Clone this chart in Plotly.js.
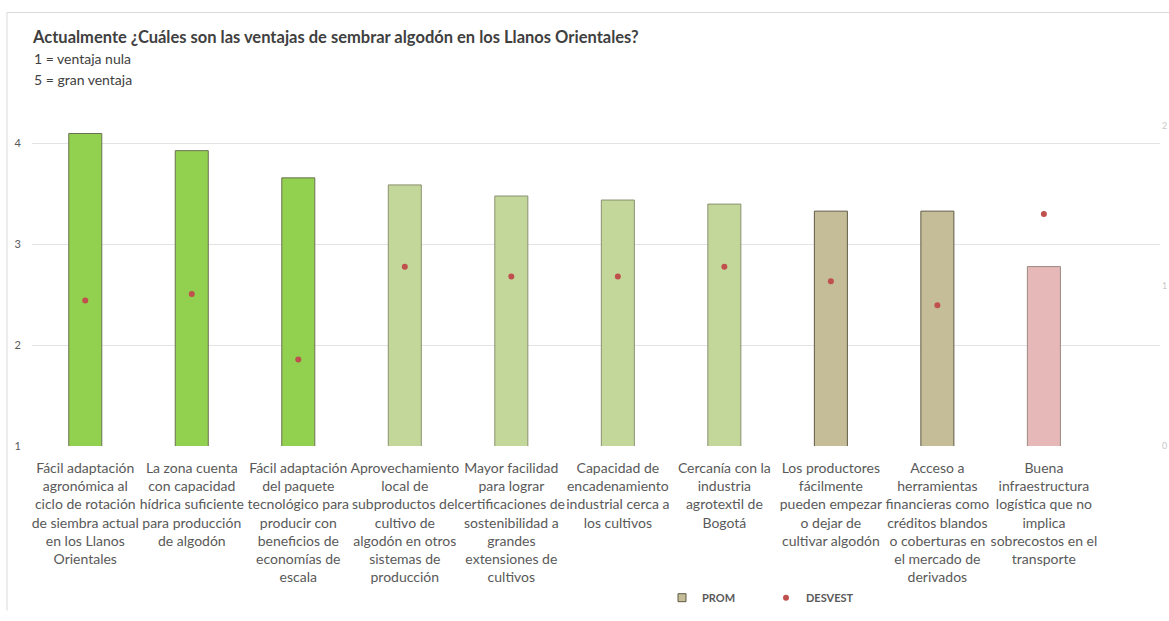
<!DOCTYPE html>
<html>
<head>
<meta charset="utf-8">
<script src="https://cdn.plot.ly/plotly-3.0.1.min.js"></script>
<style>html,body{margin:0;padding:0;background:#fff;}#chart{width:1169px;height:621px;}</style>
</head>
<body>
<div id="chart"></div>
<script>
const categories = [
  "Fácil adaptación<br>agronómica al<br>ciclo de rotación<br>de siembra actual<br>en los Llanos<br>Orientales",
  "La zona cuenta<br>con capacidad<br>hídrica suficiente<br>para producción<br>de algodón",
  "Fácil adaptación<br>del paquete<br>tecnológico para<br>producir con<br>beneficios de<br>economías de<br>escala",
  "Aprovechamiento<br>local de<br>subproductos del<br>cultivo de<br>algodón en otros<br>sistemas de<br>producción",
  "Mayor facilidad<br>para lograr<br>certificaciones de<br>sostenibilidad a<br>grandes<br>extensiones de<br>cultivos",
  "Capacidad de<br>encadenamiento<br>industrial cerca a<br>los cultivos",
  "Cercanía con la<br>industria<br>agrotextil de<br>Bogotá",
  "Los productores<br>fácilmente<br>pueden empezar<br>o dejar de<br>cultivar algodón",
  "Acceso a<br>herramientas<br>financieras como<br>créditos blandos<br>o coberturas en<br>el mercado de<br>derivados",
  "Buena<br>infraestructura<br>logística que no<br>implica<br>sobrecostos en el<br>transporte"
];
const prom = [4.10, 3.93, 3.66, 3.59, 3.48, 3.44, 3.40, 3.33, 3.33, 2.78];
const desvest = [0.91, 0.95, 0.54, 1.12, 1.06, 1.06, 1.12, 1.03, 0.88, 1.45];
const yTicks = [1, 2, 3, 4];
const y2Ticks = [0, 1, 2];
const titleText = "Actualmente ¿Cuáles son las ventajas de sembrar algodón en los Llanos Orientales?";
const subtitleLines = ["1 = ventaja nula", "5 = gran ventaja"];

const barColors = ["#92D050","#92D050","#92D050","#C4D79B","#C4D79B","#C4D79B","#C4D79B","#C4BD97","#C4BD97","#E6B8B7"];
const barLines = ["#6b7050","#6b7050","#6b7050","#8a9070","#8a9070","#8a9070","#8a9070","#5f5a45","#5f5a45","#9a8a85"];

const font = "Lato, 'Open Sans', sans-serif";
const py = p => (453 - p) / 328;   // pixel row -> paper y
const px = p => (p - 32) / 1128;   // pixel column -> paper x

const traces = [
  {
    type: "bar", x: categories, y: prom, name: "PROM", showlegend: false,
    width: 0.31,
    marker: {color: barColors, line: {color: barLines, width: 1}},
    xaxis: "x", yaxis: "y"
  },
  {
    type: "scatter", mode: "markers", x: [categories[0]], y: [null], name: "PROM",
    marker: {color: "#C4BD97", symbol: "square", size: 8, line: {color: "#5f5a45", width: 1}},
    xaxis: "x", yaxis: "y"
  },
  {
    type: "scatter", mode: "markers", x: categories, y: desvest, name: "DESVEST",
    marker: {color: "#C0504D", size: 6},
    xaxis: "x", yaxis: "y2"
  }
];

const layout = {
  width: 1169, height: 621,
  margin: {l: 32, r: 9, t: 125, b: 168},
  paper_bgcolor: "#ffffff", plot_bgcolor: "#ffffff",
  font: {family: font, color: "#595959", size: 13},
  barmode: "overlay",
  title: {
    text: "<b>" + titleText + "</b>",
    x: 33/1169, xanchor: "left", xref: "container",
    y: 1 - 37/621, yanchor: "middle", yref: "container",
    font: {family: font, size: 16.5, color: "#404040"}
  },
  annotations: subtitleLines.map((t, i) => ({
    text: t, xref: "paper", yref: "paper", x: px(32), y: py(57 + i * 21),
    xanchor: "left", yanchor: "middle", showarrow: false,
    font: {family: font, size: 14, color: "#404040"}
  })),
  xaxis: {
    type: "category", range: [-0.5, 10.09],
    showgrid: false, showline: false, zeroline: false, ticks: "",
    tickangle: 0,
    tickfont: {family: font, size: 14, color: "#595959"},
    ticklabelstandoff: 12
  },
  yaxis: {
    range: [1, 1 + 328/103], tickvals: yTicks,
    showgrid: true, gridcolor: "#e3e3e3", gridwidth: 1,
    zeroline: false, showline: false, ticks: "",
    tickfont: {family: font, size: 11, color: "#595959"},
    ticklabelstandoff: 10
  },
  yaxis2: {
    overlaying: "y", side: "right", range: [0, 328/163.5], tickvals: y2Ticks,
    showgrid: false, zeroline: false, showline: false, ticks: "",
    tickfont: {family: font, size: 9, color: "#c8c8c8"},
    ticklabelstandoff: 1
  },
  legend: {
    orientation: "h", x: px(662), xanchor: "left",
    y: py(608), yanchor: "middle",
    font: {family: font, size: 11, color: "#595959", weight: "bold"},
    bgcolor: "rgba(0,0,0,0)", itemwidth: 30,
    entrywidth: 59, entrywidthmode: "pixels",
    traceorder: "normal"
  },
  shapes: [
    {type: "line", xref: "paper", yref: "paper", x0: px(7), x1: px(1169), y0: py(10), y1: py(10), line: {color: "#d9d9d9", width: 1}},
    {type: "line", xref: "paper", yref: "paper", x0: px(7), x1: px(7), y0: py(10), y1: py(621), line: {color: "#d9d9d9", width: 1}}
  ],
  showlegend: true
};

Plotly.newPlot("chart", traces, layout, {displayModeBar: false, staticPlot: true});
</script>
</body>
</html>
